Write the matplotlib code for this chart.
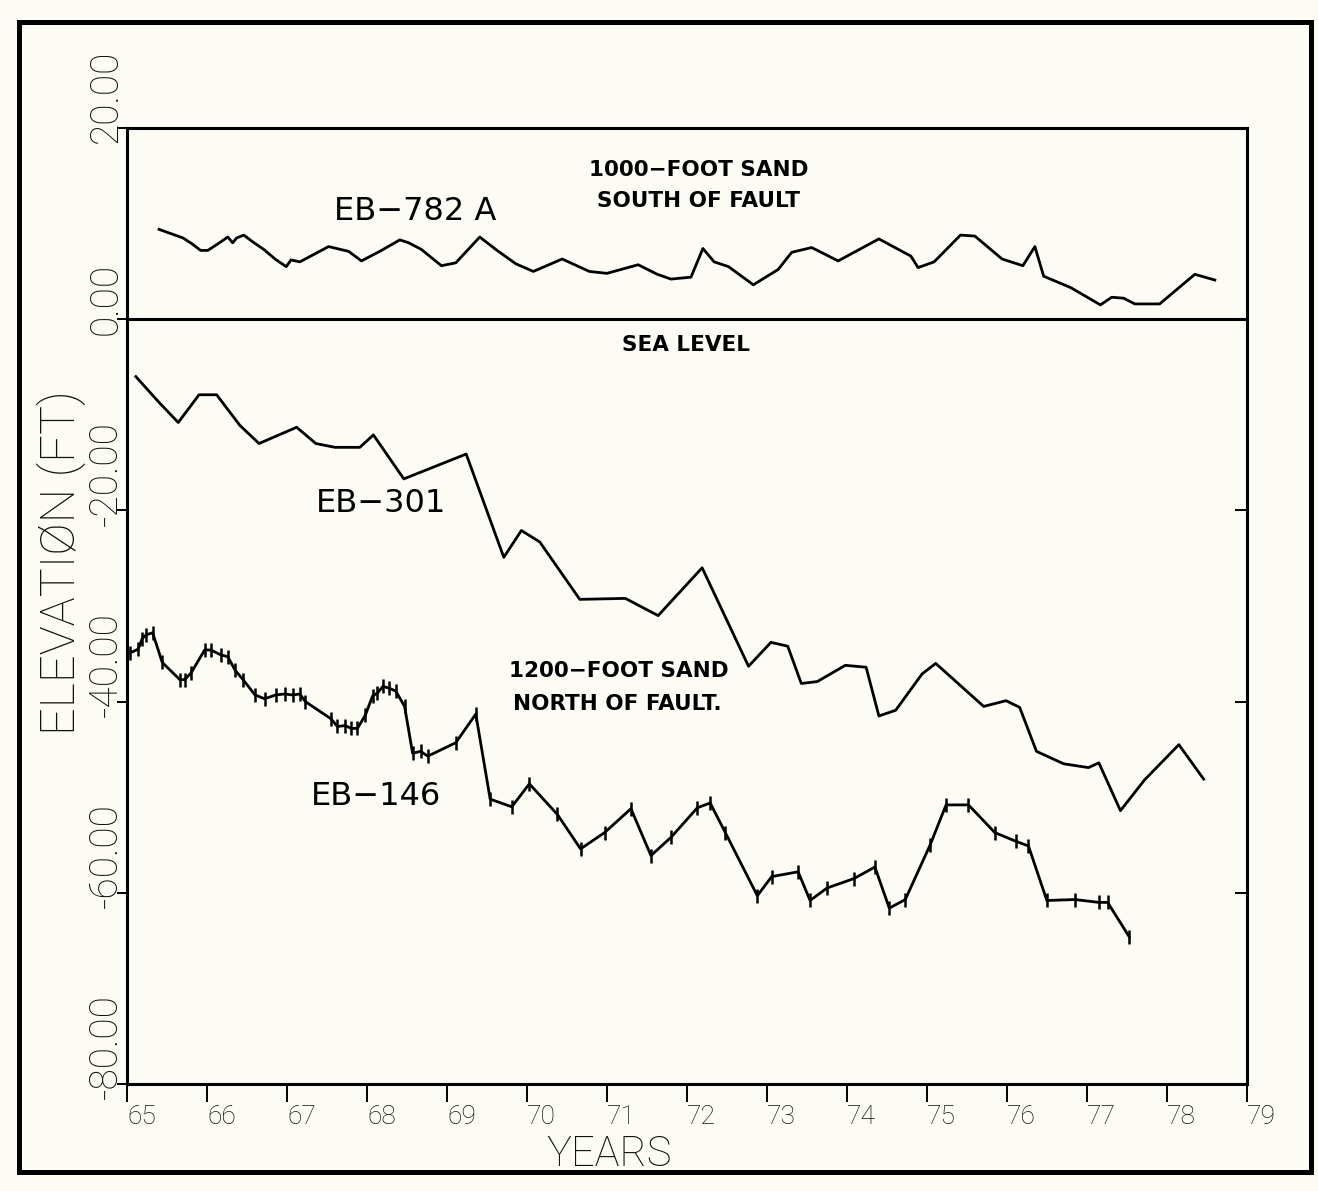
import matplotlib
matplotlib.use("Agg")
import matplotlib.pyplot as plt
from matplotlib.transforms import blended_transform_factory
from matplotlib.patches import Rectangle

# EB-782 A, 1000-foot sand south of fault
yr_782 = [65.40, 65.70, 65.81, 65.92, 66.01, 66.12, 66.26, 66.32, 66.37, 66.46,
          66.57, 66.71, 66.85, 66.99, 67.05, 67.16, 67.52, 67.77, 67.93, 68.16,
          68.41, 68.52, 68.68, 68.93, 69.11, 69.41, 69.61, 69.86, 70.08, 70.44,
          70.78, 71.00, 71.39, 71.63, 71.80, 72.05, 72.20, 72.34, 72.52, 72.83,
          73.14, 73.31, 73.56, 73.89, 74.40, 74.80, 74.89, 75.09, 75.42, 75.60,
          75.94, 76.20, 76.35, 76.46, 76.80, 77.17, 77.31, 77.46, 77.60, 77.91,
          78.35, 78.60]
el_782 = [9.4, 8.5, 7.9, 7.2, 7.2, 7.8, 8.6, 8.0, 8.5, 8.8,
          8.1, 7.3, 6.3, 5.5, 6.2, 6.0, 7.6, 7.1, 6.1, 7.1,
          8.3, 8.0, 7.3, 5.6, 5.9, 8.6, 7.3, 5.8, 5.0, 6.3,
          5.0, 4.8, 5.7, 4.7, 4.2, 4.4, 7.4, 6.0, 5.5, 3.6,
          5.2, 7.0, 7.5, 6.1, 8.4, 6.6, 5.4, 6.0, 8.8, 8.7,
          6.3, 5.6, 7.6, 4.5, 3.3, 1.5, 2.3, 2.2, 1.6, 1.6,
          4.7, 4.1]

# EB-301, 1200-foot sand north of fault
yr_301 = [65.11, 65.40, 65.64, 65.90, 66.12, 66.41, 66.65, 67.12, 67.36, 67.60,
          67.91, 68.08, 68.46, 69.24, 69.71, 69.93, 70.16, 70.66, 71.23, 71.64,
          72.19, 72.77, 73.05, 73.26, 73.43, 73.63, 73.98, 74.24, 74.40, 74.61,
          74.94, 75.11, 75.71, 75.99, 76.16, 76.37, 76.71, 77.02, 77.15, 77.42,
          77.72, 78.15, 78.46]
el_301 = [-6.0, -8.7, -10.8, -7.9, -7.9, -11.1, -13.0, -11.3, -13.0, -13.4,
          -13.4, -12.1, -16.7, -14.1, -24.9, -22.1, -23.3, -29.3, -29.2, -31.0,
          -26.0, -36.3, -33.8, -34.2, -38.1, -37.9, -36.2, -36.4, -41.5, -40.9,
          -37.1, -36.0, -40.5, -39.9, -40.6, -45.2, -46.5, -46.9, -46.4, -51.4,
          -48.2, -44.5, -48.1]

# EB-146, 1200-foot sand north of fault
yr_146 = [65.04, 65.14, 65.19, 65.24, 65.32, 65.44, 65.66, 65.72, 65.80, 65.97,
          66.05, 66.17, 66.26, 66.35, 66.45, 66.60, 66.72, 66.86, 66.97, 67.07,
          67.16, 67.23, 67.55, 67.63, 67.73, 67.80, 67.88, 67.98, 68.07, 68.13,
          68.20, 68.28, 68.36, 68.47, 68.57, 68.67, 68.76, 69.11, 69.36, 69.54,
          69.81, 70.03, 70.38, 70.67, 70.97, 71.30, 71.55, 71.80, 72.13, 72.29,
          72.48, 72.88, 73.06, 73.39, 73.54, 73.75, 74.09, 74.35, 74.53, 74.73,
          75.04, 75.24, 75.52, 75.85, 76.11, 76.27, 76.50, 76.85, 77.15, 77.26,
          77.53]
el_146 = [-34.9, -34.5, -33.4, -33.0, -32.8, -35.9, -37.7, -37.7, -37.0, -34.6,
          -34.6, -35.1, -35.3, -36.7, -37.7, -39.3, -39.7, -39.3, -39.2, -39.3,
          -39.2, -40.0, -41.8, -42.6, -42.5, -42.8, -42.8, -41.4, -39.4, -39.1,
          -38.4, -38.6, -38.9, -40.5, -45.4, -45.2, -45.7, -44.3, -41.3, -50.2,
          -51.0, -48.6, -51.8, -55.4, -53.7, -51.2, -56.1, -54.2, -51.1, -50.6,
          -53.7, -60.3, -58.3, -57.8, -60.8, -59.5, -58.5, -57.3, -61.6, -60.7,
          -55.0, -50.8, -50.8, -53.7, -54.6, -55.1, -60.8, -60.7, -61.0, -61.0,
          -64.6]

years = list(range(65, 80))
year_labels = [str(y) for y in years]
elev_ticks = [20, 0, -20, -40, -60, -80]
elev_labels = ["20.00", "0.00", "-20.00", "-40.00", "-60.00", "-80.00"]

paper = "#fcfbf4"
plot_font = "Roboto"
plot_weight = "light"

fig = plt.figure(figsize=(13.18, 11.91), dpi=100, facecolor=paper)
ax = fig.add_axes([0.0964, 0.0898, 0.8496, 0.8027], facecolor=paper)

# page border
fig.patches.append(Rectangle((0.0144, 0.016), 0.9803, 0.9655, transform=fig.transFigure,
                             fill=False, lw=3.6, ec="black", zorder=0))

ax.plot(yr_782, el_782, color="black", lw=2.0)
ax.plot(yr_301, el_301, color="black", lw=2.0)
ax.plot(yr_146, el_146, color="black", lw=2.0, marker="|", ms=10, mew=1.8)
ax.axhline(0, color="black", lw=2.2)

ax.set_xlim(65, 79)
ax.set_ylim(-80, 20)
for s in ax.spines.values():
    s.set_linewidth(2.2)

ax.set_xticks(years)
ax.set_xticklabels(year_labels, ha="left", family=plot_font, fontweight=plot_weight,
                   fontsize=19, color="#111111")
ax.tick_params(axis="x", direction="out", length=13, width=1.4, pad=2)
ax.set_yticks(elev_ticks)
ax.set_yticklabels([])
ax.tick_params(axis="y", direction="out", length=7, width=1.4)

ax2 = ax.twinx()
ax2.set_ylim(-80, 20)
ax2.set_yticks(elev_ticks)
ax2.tick_params(axis="y", direction="in", length=9, width=1.4, labelright=False)
for s in ax2.spines.values():
    s.set_visible(False)

tr = blended_transform_factory(ax.transAxes, ax.transData)
for v, lab in zip(elev_ticks, elev_labels):
    ax.text(-0.019, v - 1.6, lab, transform=tr, rotation=90, ha="center", va="bottom",
            family=plot_font, fontweight=plot_weight, fontsize=28, color="#111111")

ax.set_ylabel("ELEVATIØN (FT)", family=plot_font, fontweight=plot_weight, fontsize=35, color="#111111")
ax.yaxis.set_label_coords(-0.037, 0.545)
ax.set_xlabel("YEARS", family=plot_font, fontweight=plot_weight, fontsize=30, color="#111111")
ax.xaxis.set_label_coords(0.43, -0.052)

ax.text(68.60, 11.3, "EB\u2212782 A", ha="center", va="center", fontsize=23)
ax.text(72.15, 15.6, "1000\u2212FOOT SAND", ha="center", va="center", fontsize=15.5, fontweight="bold")
ax.text(72.15, 12.4, "SOUTH OF FAULT", ha="center", va="center", fontsize=15.5, fontweight="bold")
ax.text(71.99, -2.7, "SEA LEVEL", ha="center", va="center", fontsize=15.5, fontweight="bold")
ax.text(68.18, -19.25, "EB\u2212301", ha="center", va="center", fontsize=23)
ax.text(71.15, -36.8, "1200\u2212FOOT SAND", ha="center", va="center", fontsize=15.5, fontweight="bold")
ax.text(71.13, -40.2, "NORTH OF FAULT.", ha="center", va="center", fontsize=15.5, fontweight="bold")
ax.text(68.11, -49.9, "EB\u2212146", ha="center", va="center", fontsize=23)

fig.savefig("out.png", dpi=100, facecolor=paper)
